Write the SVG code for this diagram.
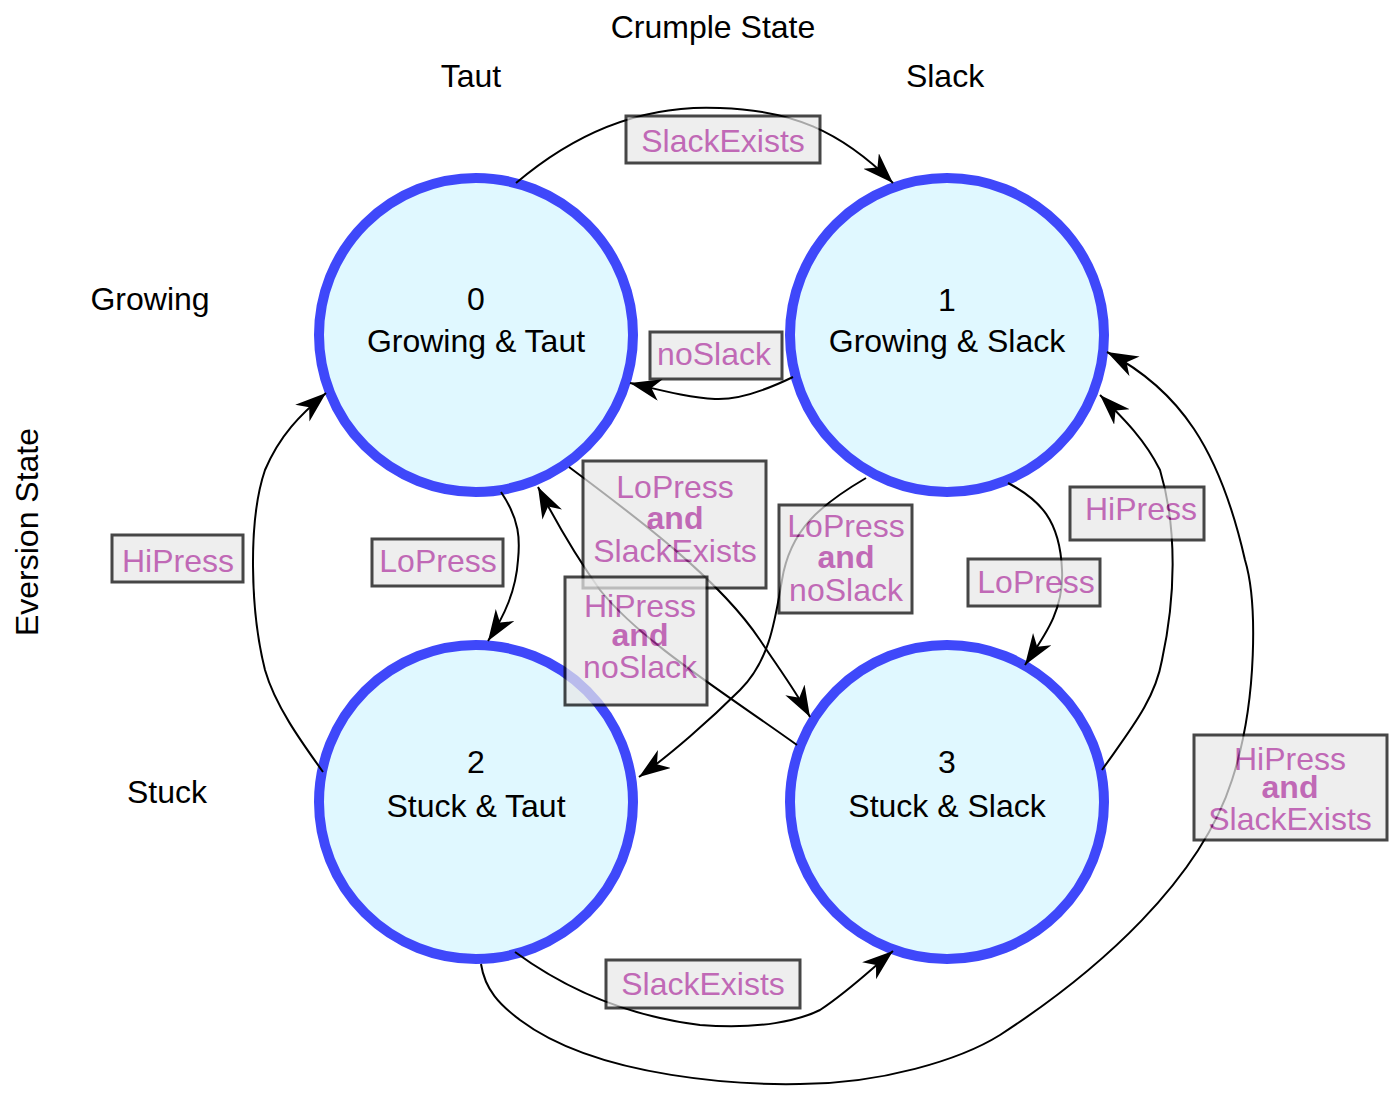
<svg xmlns="http://www.w3.org/2000/svg" width="1400" height="1106" viewBox="0 0 1400 1106">
<style>
text{font-family:"Liberation Sans",Arial,sans-serif;font-size:32px;text-anchor:middle;fill:#000}
.node circle{fill:#e0f8ff;stroke:#3f48fa;stroke-width:10}
.edges path{fill:none;stroke:#000;stroke-width:2;marker-end:url(#arr)}
.lbl{opacity:0.72}
.lbl rect{fill:#e8e8e8;stroke:#000;stroke-width:3}
.lbl text{fill:#a8309a}
.b{font-weight:bold}
</style>
<defs>
<marker id="arr" markerUnits="userSpaceOnUse" markerWidth="34" markerHeight="26" refX="31" refY="11" orient="auto">
<path d="M0,0 L31,11 L0,22 L9,11 z" fill="#000"/>
</marker>
</defs>
<rect width="1400" height="1106" fill="#fff"/>
<g id="axes">
<text x="713" y="38">Crumple State</text>
<text x="471" y="87">Taut</text>
<text x="945" y="87">Slack</text>
<text x="150" y="310">Growing</text>
<text x="167" y="803">Stuck</text>
<text transform="translate(38,532) rotate(-90)">Eversion State</text>
</g>
<g id="node0" class="node"><circle cx="476" cy="335" r="157"/><text x="476" y="310">0</text><text x="476" y="352">Growing &amp; Taut</text></g>
<g id="node1" class="node"><circle cx="947" cy="335" r="157"/><text x="947" y="311">1</text><text x="947" y="352">Growing &amp; Slack</text></g>
<g id="node2" class="node"><circle cx="476" cy="802" r="157"/><text x="476" y="773">2</text><text x="476" y="817">Stuck &amp; Taut</text></g>
<g id="node3" class="node"><circle cx="947" cy="802" r="157"/><text x="947" y="773">3</text><text x="947" y="817">Stuck &amp; Slack</text></g>
<g id="edges" class="edges">
<path d="M516,183 C590,120 660,105 720,108 C790,110 840,130 893,183"/>
<path d="M793,377 C760,393 735,400 715,399 C690,398 660,390 630,383"/>
<path d="M501,492 C520,520 520,540 518,560 C516,590 505,615 488,641"/>
<path d="M569,467 C640,520 720,580 760,640 C780,670 795,690 810,717"/>
<path d="M797,745 C720,690 640,640 600,590 C575,555 555,520 538,487"/>
<path d="M866,478 C820,505 790,530 782,580 C775,620 770,660 740,690 C710,720 670,755 639,777"/>
<path d="M1008,483 C1040,500 1060,520 1062,570 C1064,610 1045,635 1025,665"/>
<path d="M1102,770 C1130,730 1155,700 1162,660 C1175,600 1178,530 1160,470 C1145,440 1125,420 1100,395"/>
<path d="M481,964 C485,990 500,1005 520,1020 C600,1080 750,1085 800,1084 C880,1084 960,1060 1000,1035 C1100,970 1200,880 1232,780 C1258,700 1257,600 1245,560 C1220,450 1180,390 1107,352"/>
<path d="M515,952 C560,985 620,1015 700,1025 C760,1030 800,1020 820,1010 C850,990 870,970 893,951"/>
<path d="M323,772 C300,740 275,705 265,670 C250,610 248,520 265,470 C280,435 300,415 326,393"/>
</g>
<g id="labels">
<g class="lbl"><rect x="626" y="116" width="194" height="47"/><text x="723" y="152">SlackExists</text></g>
<g class="lbl"><rect x="650" y="332" width="132" height="47"/><text x="714" y="365">noSlack</text></g>
<g class="lbl"><rect x="583" y="461" width="183" height="127"/><text x="675" y="498">LoPress</text><text class="b" x="675" y="529">and</text><text x="675" y="562">SlackExists</text></g>
<g class="lbl"><rect x="565" y="577" width="142" height="128"/><text x="640" y="617">HiPress</text><text class="b" x="640" y="646">and</text><text x="640" y="678">noSlack</text></g>
<g class="lbl"><rect x="779" y="505" width="133" height="108"/><text x="846" y="537">LoPress</text><text class="b" x="846" y="568">and</text><text x="846" y="601">noSlack</text></g>
<g class="lbl"><rect x="372" y="539" width="131" height="47"/><text x="438" y="572">LoPress</text></g>
<g class="lbl"><rect x="112" y="535" width="131" height="47"/><text x="178" y="572">HiPress</text></g>
<g class="lbl"><rect x="1070" y="487" width="134" height="53"/><text x="1141" y="520">HiPress</text></g>
<g class="lbl"><rect x="968" y="559" width="132" height="47"/><text x="1036" y="593">LoPress</text></g>
<g class="lbl"><rect x="1194" y="735" width="193" height="105"/><text x="1290" y="770">HiPress</text><text class="b" x="1290" y="798">and</text><text x="1290" y="830">SlackExists</text></g>
<g class="lbl"><rect x="606" y="960" width="194" height="48"/><text x="703" y="995">SlackExists</text></g>
</g>
</svg>
